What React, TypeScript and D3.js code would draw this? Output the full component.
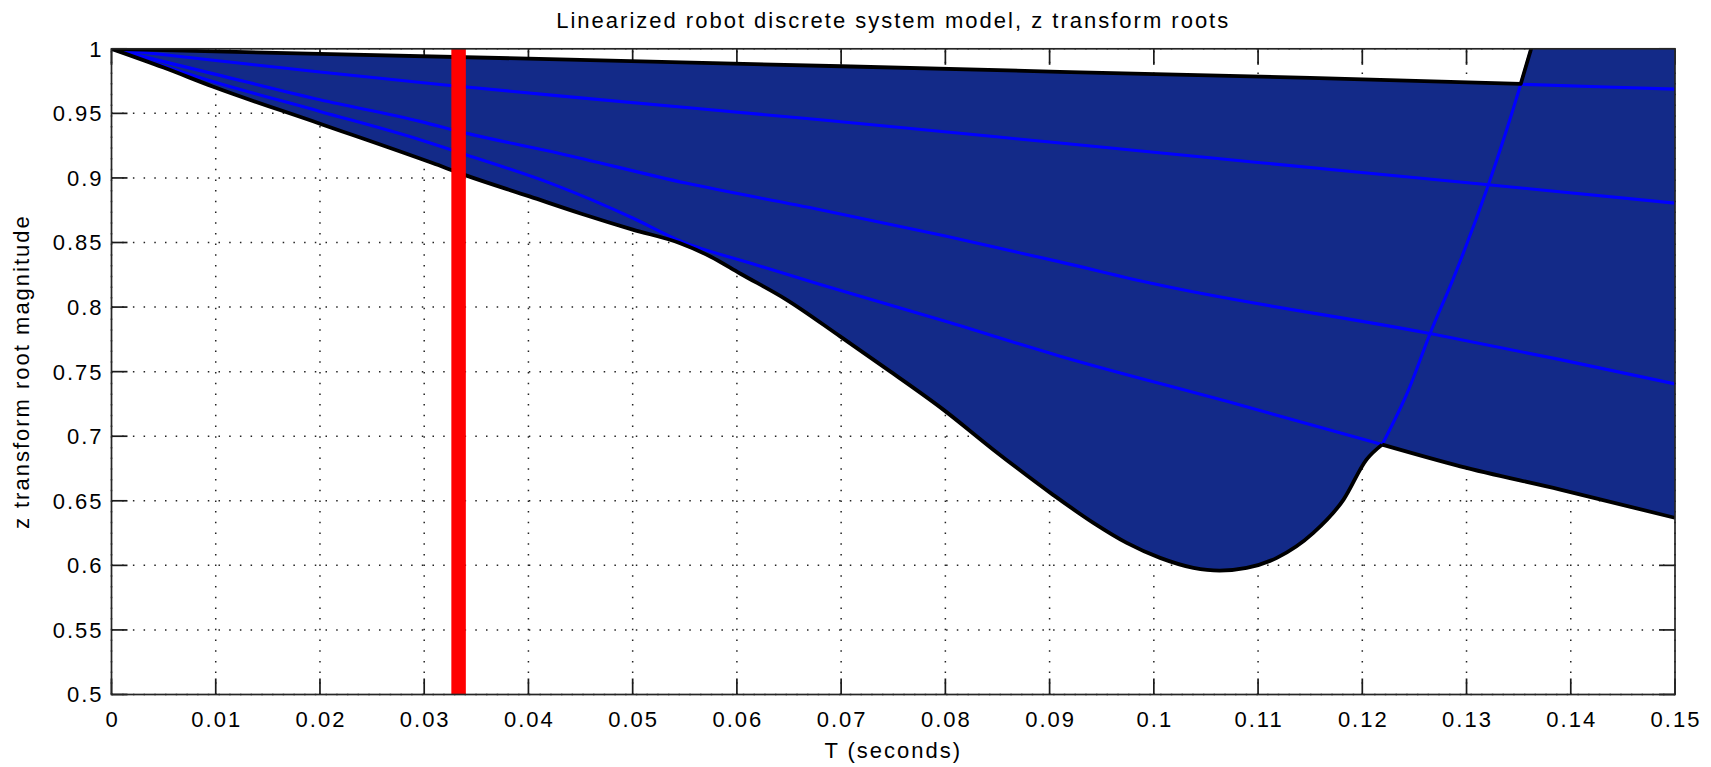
import React from "react";
import * as d3 from "d3";

type Pt = [number, number];

// tick values and their printed labels
const xTicks = [0, 0.01, 0.02, 0.03, 0.04, 0.05, 0.06, 0.07, 0.08, 0.09, 0.1, 0.11, 0.12, 0.13, 0.14, 0.15];
const xTickLabels = ["0", "0.01", "0.02", "0.03", "0.04", "0.05", "0.06", "0.07", "0.08", "0.09", "0.1", "0.11", "0.12", "0.13", "0.14", "0.15"];
const yTicks = [0.5, 0.55, 0.6, 0.65, 0.7, 0.75, 0.8, 0.85, 0.9, 0.95, 1];
const yTickLabels = ["0.5", "0.55", "0.6", "0.65", "0.7", "0.75", "0.8", "0.85", "0.9", "0.95", "1"];

// upper edge of the shaded band (largest root magnitude)
const maxRoot: Pt[] = [
  [0, 1], [0.02, 0.996], [0.043, 0.9918], [0.07, 0.9865], [0.091, 0.9822], [0.115, 0.9775], [0.1352, 0.9728],
];

// lower edge: complex pair until it splits, then the real root
const minRootPair: Pt[] = [
  [0, 1], [0.005, 0.9855], [0.0097, 0.9708], [0.02, 0.942], [0.0308, 0.9115], [0.034, 0.902],
  [0.0401, 0.8857], [0.045, 0.8725], [0.05, 0.86], [0.0545, 0.8496], [0.0575, 0.839], [0.0603, 0.826],
  [0.0647, 0.806], [0.0699, 0.7773], [0.0747, 0.7502], [0.0798, 0.7206], [0.0846, 0.6896], [0.0903, 0.6548],
  [0.0942, 0.6329], [0.0974, 0.6174], [0.1006, 0.6058], [0.1038, 0.5981], [0.1063, 0.596], [0.1089, 0.5981],
  [0.1118, 0.6058], [0.1153, 0.6251], [0.1182, 0.6509], [0.1204, 0.6819], [0.1219, 0.6935],
];
const minRootReal: Pt[] = [
  [0.1219, 0.6935], [0.1294, 0.6767], [0.139, 0.6587], [0.15, 0.6368],
];

// individual root magnitudes (blue)
const rootA: Pt[] = [
  [0, 1], [0.01, 0.991], [0.02, 0.982], [0.032, 0.972], [0.045, 0.962], [0.068, 0.945],
  [0.091, 0.927], [0.11, 0.912], [0.1321, 0.8947], [0.15, 0.8805],
];
const rootB: Pt[] = [
  [0, 1], [0.01, 0.9802], [0.02, 0.9605], [0.0296, 0.9438], [0.034, 0.9347], [0.043, 0.919],
  [0.0551, 0.896], [0.068, 0.8754], [0.08, 0.855], [0.091, 0.835], [0.1, 0.818], [0.1265, 0.7795],
  [0.139, 0.7593], [0.15, 0.7405],
];
const rootC: Pt[] = [
  [0, 1], [0.0097, 0.9747], [0.02, 0.9515], [0.0296, 0.9296], [0.034, 0.918], [0.0424, 0.895],
  [0.05, 0.869], [0.0545, 0.8515], [0.0615, 0.8335], [0.068, 0.8175], [0.08, 0.789], [0.091, 0.762],
  [0.107, 0.727], [0.1219, 0.6935],
];
const rootD: Pt[] = [
  [0.1219, 0.6935], [0.1245, 0.737], [0.1265, 0.7795], [0.1287, 0.8215], [0.1321, 0.8947],
  [0.1352, 0.9725], [0.1362, 1.0], [0.1375, 1.04],
];
const rootE: Pt[] = [
  [0.1352, 0.9725], [0.1434, 0.9704], [0.15, 0.9688],
];

// sampling period marker
const markerT = 0.0333;

const W = 1711;
const H = 767;
const FONT = "'Liberation Sans', Arial, Helvetica, sans-serif";

export default function App() {
  const x = d3.scaleLinear().domain([0, 0.15]).range([111.5, 1675]);
  const y = d3.scaleLinear().domain([0.5, 1]).range([694.5, 48.8]);

  const curve = d3.line<Pt>().x((d) => x(d[0])).y((d) => y(d[1])).curve(d3.curveMonotoneX);
  const straight = d3.line<Pt>().x((d) => x(d[0])).y((d) => y(d[1]));

  const lastMax = maxRoot[maxRoot.length - 1][0];
  const dTail = rootD.filter((d) => d[0] > lastMax);
  const topEdge = [...maxRoot, ...dTail];

  const fillPath =
    (straight([...topEdge, [0.15, dTail[dTail.length - 1][1]]]) || "") +
    (curve([...minRootReal].reverse()) || "").replace(/^M/, "L") +
    (curve([...minRootPair].reverse()) || "").replace(/^M/, "L") +
    "Z";

  const [x0, x1] = x.range();
  const [y0, y1] = y.range();
  const tickLen = 16;
  const textStyle = { fontFamily: FONT, fontSize: 22, letterSpacing: 2 } as const;

  return (
    <div style={{ position: "absolute", left: 0, top: 0 }}>
      <svg width={W} height={H} style={{ display: "block", background: "#fff" }}>
        <defs>
          <clipPath id="plot">
            <rect x={x0} y={y1} width={x1 - x0} height={y0 - y1} />
          </clipPath>
        </defs>

        {/* grid */}
        <g stroke="#222" strokeWidth={1.5} strokeDasharray="1.5 9.2">
          {xTicks.map((t) => (
            <line key={"gx" + t} x1={x(t)} x2={x(t)} y1={y0} y2={y1} />
          ))}
          {yTicks.map((t) => (
            <line key={"gy" + t} x1={x0} x2={x1} y1={y(t)} y2={y(t)} />
          ))}
        </g>

        {/* ticks on all four sides */}
        <g stroke="#1a1a1a" strokeWidth={1.7}>
          {xTicks.map((t) => (
            <g key={"tx" + t}>
              <line x1={x(t)} x2={x(t)} y1={y0} y2={y0 - tickLen} />
              <line x1={x(t)} x2={x(t)} y1={y1} y2={y1 + tickLen} />
            </g>
          ))}
          {yTicks.map((t) => (
            <g key={"ty" + t}>
              <line x1={x0} x2={x0 + tickLen} y1={y(t)} y2={y(t)} />
              <line x1={x1} x2={x1 - tickLen} y1={y(t)} y2={y(t)} />
            </g>
          ))}
        </g>

        <g clipPath="url(#plot)">
          <path d={fillPath} fill="#132a88" stroke="none" />
          <g fill="none" stroke="#0000ff" strokeWidth={3.1}>
            <path d={curve(rootA) || ""} />
            <path d={curve(rootB) || ""} />
            <path d={curve(rootC) || ""} />
            <path d={curve(rootD) || ""} />
            <path d={straight(rootE) || ""} />
          </g>
          <g fill="none" stroke="#000" strokeWidth={3.8} strokeLinejoin="round">
            <path d={straight(topEdge) || ""} />
            <path d={curve(minRootPair) || ""} />
            <path d={curve(minRootReal) || ""} />
          </g>
        </g>

        {/* sample period marker */}
        <line x1={x(markerT)} x2={x(markerT)} y1={y0} y2={y1} stroke="#ff0000" strokeWidth={14.5} />

        {/* axes box */}
        <rect x={x0} y={y1} width={x1 - x0} height={y0 - y1} fill="none" stroke="#262626" strokeWidth={1.7} />

        {/* tick labels */}
        <g style={textStyle} fill="#000">
          {xTicks.map((t, i) => (
            <text key={"lx" + t} x={x(t) + 1} y={726.5} textAnchor="middle">
              {xTickLabels[i]}
            </text>
          ))}
          {yTicks.map((t, i) => (
            <text key={"ly" + t} x={x0 - 8} y={y(t)} dy="0.36em" textAnchor="end">
              {yTickLabels[i]}
            </text>
          ))}
        </g>

        <text x={(x0 + x1) / 2} y={28} textAnchor="middle" style={textStyle}>
          Linearized robot discrete system model, z transform roots
        </text>
        <text x={(x0 + x1) / 2} y={758} textAnchor="middle" style={textStyle}>
          T (seconds)
        </text>
        <text
          transform={`translate(28.5, ${(y0 + y1) / 2}) rotate(-90)`}
          textAnchor="middle"
          style={textStyle}
        >
          z transform root magnitude
        </text>
      </svg>
    </div>
  );
}
